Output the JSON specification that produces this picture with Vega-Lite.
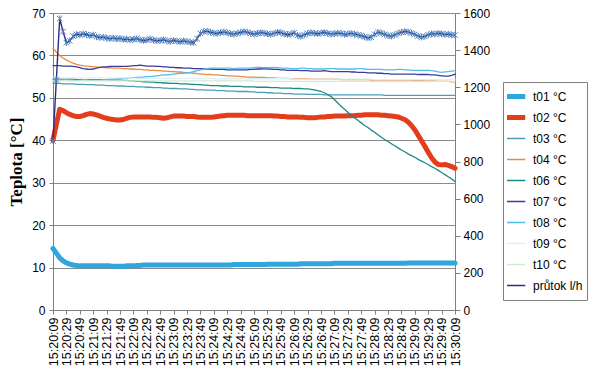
{
"$schema": "https://vega.github.io/schema/vega-lite/v6.json",
"width": 402, "height": 297,
"autosize": {"type": "none"},
"padding": {"left": 53, "top": 13, "right": 145, "bottom": 67},
"background": "white",
"config": {"view": {"stroke": null}, "font": "Liberation Sans"},
"data": {"values": [
{"t":"15:20:09","t01":14.5,"t02":40.0,"t03":53.4,"t04":61.7,"t06":54.4,"t07":57.6,"t08":54.2,"t09":54.8,"t10":54.0,"flow":910},
{"t":"15:20:14","t01":13.4,"t02":43.8,"t03":53.4,"t04":60.8,"t06":54.4,"t07":57.6,"t08":54.2,"t09":54.8,"t10":54.0,"flow":1240},
{"t":"15:20:19","t01":12.3,"t02":47.3,"t03":53.4,"t04":60.0,"t06":54.4,"t07":57.6,"t08":54.2,"t09":54.7,"t10":54.0,"flow":1570},
{"t":"15:20:24","t01":11.6,"t02":47.0,"t03":53.3,"t04":59.4,"t06":54.4,"t07":57.5,"t08":54.3,"t09":54.7,"t10":54.0,"flow":1500},
{"t":"15:20:29","t01":11.1,"t02":46.5,"t03":53.3,"t04":58.9,"t06":54.4,"t07":57.5,"t08":54.3,"t09":54.7,"t10":54.0,"flow":1440},
{"t":"15:20:34","t01":10.8,"t02":46.1,"t03":53.3,"t04":58.5,"t06":54.4,"t07":57.5,"t08":54.2,"t09":54.7,"t10":54.0,"flow":1450},
{"t":"15:20:39","t01":10.6,"t02":45.8,"t03":53.3,"t04":58.2,"t06":54.4,"t07":57.4,"t08":54.1,"t09":54.7,"t10":54.0,"flow":1475},
{"t":"15:20:44","t01":10.5,"t02":45.6,"t03":53.2,"t04":57.9,"t06":54.3,"t07":57.3,"t08":54.1,"t09":54.7,"t10":54.0,"flow":1485},
{"t":"15:20:49","t01":10.4,"t02":45.6,"t03":53.2,"t04":57.7,"t06":54.3,"t07":57.1,"t08":54.2,"t09":54.7,"t10":54.0,"flow":1482},
{"t":"15:20:54","t01":10.4,"t02":45.8,"t03":53.2,"t04":57.6,"t06":54.3,"t07":56.9,"t08":54.3,"t09":54.7,"t10":54.0,"flow":1488},
{"t":"15:20:59","t01":10.4,"t02":46.1,"t03":53.1,"t04":57.5,"t06":54.3,"t07":56.8,"t08":54.3,"t09":54.7,"t10":54.0,"flow":1484},
{"t":"15:21:04","t01":10.4,"t02":46.3,"t03":53.1,"t04":57.4,"t06":54.3,"t07":56.7,"t08":54.2,"t09":54.7,"t10":54.0,"flow":1478},
{"t":"15:21:09","t01":10.4,"t02":46.2,"t03":53.1,"t04":57.3,"t06":54.3,"t07":56.8,"t08":54.2,"t09":54.7,"t10":54.0,"flow":1482},
{"t":"15:21:14","t01":10.4,"t02":46.0,"t03":53.0,"t04":57.3,"t06":54.3,"t07":57.0,"t08":54.2,"t09":54.7,"t10":54.0,"flow":1472},
{"t":"15:21:19","t01":10.4,"t02":45.7,"t03":53.0,"t04":57.2,"t06":54.3,"t07":57.2,"t08":54.2,"t09":54.7,"t10":54.0,"flow":1468},
{"t":"15:21:24","t01":10.4,"t02":45.4,"t03":53.0,"t04":57.2,"t06":54.3,"t07":57.3,"t08":54.3,"t09":54.7,"t10":54.0,"flow":1470},
{"t":"15:21:29","t01":10.4,"t02":45.2,"t03":52.9,"t04":57.1,"t06":54.3,"t07":57.3,"t08":54.3,"t09":54.7,"t10":54.0,"flow":1465},
{"t":"15:21:34","t01":10.4,"t02":45.0,"t03":52.9,"t04":57.1,"t06":54.2,"t07":57.4,"t08":54.4,"t09":54.7,"t10":54.0,"flow":1462},
{"t":"15:21:39","t01":10.3,"t02":44.9,"t03":52.9,"t04":57.0,"t06":54.2,"t07":57.4,"t08":54.4,"t09":54.7,"t10":54.0,"flow":1466},
{"t":"15:21:44","t01":10.3,"t02":44.8,"t03":52.8,"t04":57.0,"t06":54.2,"t07":57.4,"t08":54.5,"t09":54.7,"t10":54.0,"flow":1460},
{"t":"15:21:49","t01":10.3,"t02":44.8,"t03":52.8,"t04":57.0,"t06":54.2,"t07":57.4,"t08":54.5,"t09":54.7,"t10":54.0,"flow":1463},
{"t":"15:21:54","t01":10.3,"t02":44.9,"t03":52.8,"t04":56.9,"t06":54.1,"t07":57.4,"t08":54.6,"t09":54.7,"t10":54.0,"flow":1458},
{"t":"15:21:59","t01":10.4,"t02":45.2,"t03":52.7,"t04":56.9,"t06":54.1,"t07":57.4,"t08":54.6,"t09":54.7,"t10":54.0,"flow":1460},
{"t":"15:22:04","t01":10.4,"t02":45.4,"t03":52.7,"t04":56.8,"t06":54.0,"t07":57.5,"t08":54.7,"t09":54.7,"t10":54.0,"flow":1455},
{"t":"15:22:09","t01":10.4,"t02":45.5,"t03":52.7,"t04":56.8,"t06":54.0,"t07":57.6,"t08":54.7,"t09":54.6,"t10":54.0,"flow":1458},
{"t":"15:22:14","t01":10.5,"t02":45.5,"t03":52.6,"t04":56.7,"t06":53.9,"t07":57.6,"t08":54.8,"t09":54.6,"t10":54.0,"flow":1462},
{"t":"15:22:19","t01":10.5,"t02":45.5,"t03":52.6,"t04":56.7,"t06":53.9,"t07":57.7,"t08":54.8,"t09":54.6,"t10":54.0,"flow":1456},
{"t":"15:22:24","t01":10.6,"t02":45.5,"t03":52.6,"t04":56.6,"t06":53.8,"t07":57.6,"t08":54.9,"t09":54.6,"t10":54.0,"flow":1452},
{"t":"15:22:29","t01":10.6,"t02":45.5,"t03":52.5,"t04":56.6,"t06":53.8,"t07":57.5,"t08":55.0,"t09":54.6,"t10":54.0,"flow":1455},
{"t":"15:22:34","t01":10.6,"t02":45.5,"t03":52.5,"t04":56.5,"t06":53.7,"t07":57.5,"t08":55.0,"t09":54.6,"t10":54.0,"flow":1460},
{"t":"15:22:39","t01":10.6,"t02":45.4,"t03":52.4,"t04":56.5,"t06":53.7,"t07":57.5,"t08":55.1,"t09":54.6,"t10":54.0,"flow":1454},
{"t":"15:22:44","t01":10.6,"t02":45.4,"t03":52.4,"t04":56.4,"t06":53.6,"t07":57.4,"t08":55.2,"t09":54.6,"t10":54.0,"flow":1450},
{"t":"15:22:49","t01":10.6,"t02":45.3,"t03":52.4,"t04":56.4,"t06":53.6,"t07":57.4,"t08":55.3,"t09":54.6,"t10":54.0,"flow":1452},
{"t":"15:22:54","t01":10.6,"t02":45.2,"t03":52.3,"t04":56.3,"t06":53.5,"t07":57.3,"t08":55.4,"t09":54.6,"t10":54.0,"flow":1456},
{"t":"15:22:59","t01":10.6,"t02":45.3,"t03":52.3,"t04":56.3,"t06":53.5,"t07":57.3,"t08":55.4,"t09":54.6,"t10":54.0,"flow":1450},
{"t":"15:23:04","t01":10.6,"t02":45.5,"t03":52.2,"t04":56.2,"t06":53.4,"t07":57.2,"t08":55.5,"t09":54.6,"t10":54.0,"flow":1447},
{"t":"15:23:09","t01":10.6,"t02":45.7,"t03":52.2,"t04":56.2,"t06":53.4,"t07":57.2,"t08":55.6,"t09":54.6,"t10":54.0,"flow":1452},
{"t":"15:23:14","t01":10.6,"t02":45.7,"t03":52.2,"t04":56.1,"t06":53.4,"t07":57.1,"t08":55.7,"t09":54.6,"t10":54.0,"flow":1448},
{"t":"15:23:19","t01":10.6,"t02":45.7,"t03":52.1,"t04":56.1,"t06":53.3,"t07":57.1,"t08":55.8,"t09":54.6,"t10":54.0,"flow":1445},
{"t":"15:23:24","t01":10.6,"t02":45.7,"t03":52.1,"t04":56.0,"t06":53.3,"t07":57.0,"t08":55.8,"t09":54.6,"t10":54.0,"flow":1450},
{"t":"15:23:29","t01":10.6,"t02":45.6,"t03":52.1,"t04":55.9,"t06":53.3,"t07":57.0,"t08":55.9,"t09":54.6,"t10":54.0,"flow":1446},
{"t":"15:23:34","t01":10.6,"t02":45.6,"t03":52.0,"t04":55.9,"t06":53.2,"t07":57.0,"t08":56.0,"t09":54.6,"t10":54.0,"flow":1443},
{"t":"15:23:39","t01":10.6,"t02":45.6,"t03":52.0,"t04":55.8,"t06":53.2,"t07":56.9,"t08":56.2,"t09":54.6,"t10":54.0,"flow":1440},
{"t":"15:23:44","t01":10.6,"t02":45.5,"t03":51.9,"t04":55.7,"t06":53.1,"t07":56.9,"t08":56.4,"t09":54.6,"t10":54.0,"flow":1462},
{"t":"15:23:49","t01":10.6,"t02":45.4,"t03":51.9,"t04":55.6,"t06":53.1,"t07":56.9,"t08":56.6,"t09":54.6,"t10":54.0,"flow":1490},
{"t":"15:23:54","t01":10.6,"t02":45.4,"t03":51.9,"t04":55.6,"t06":53.0,"t07":56.8,"t08":56.7,"t09":54.6,"t10":54.0,"flow":1500},
{"t":"15:23:59","t01":10.6,"t02":45.4,"t03":51.8,"t04":55.5,"t06":53.0,"t07":56.8,"t08":56.9,"t09":54.6,"t10":54.0,"flow":1502},
{"t":"15:24:04","t01":10.6,"t02":45.4,"t03":51.8,"t04":55.5,"t06":52.9,"t07":56.8,"t08":57.0,"t09":54.6,"t10":54.0,"flow":1496},
{"t":"15:24:09","t01":10.6,"t02":45.5,"t03":51.8,"t04":55.4,"t06":52.9,"t07":56.7,"t08":57.0,"t09":54.5,"t10":54.0,"flow":1492},
{"t":"15:24:14","t01":10.6,"t02":45.6,"t03":51.7,"t04":55.4,"t06":52.9,"t07":56.7,"t08":57.0,"t09":54.5,"t10":54.0,"flow":1490},
{"t":"15:24:19","t01":10.6,"t02":45.7,"t03":51.7,"t04":55.3,"t06":52.8,"t07":56.7,"t08":57.0,"t09":54.5,"t10":54.0,"flow":1495},
{"t":"15:24:24","t01":10.6,"t02":45.8,"t03":51.7,"t04":55.3,"t06":52.8,"t07":56.7,"t08":57.0,"t09":54.5,"t10":54.0,"flow":1498},
{"t":"15:24:29","t01":10.6,"t02":45.9,"t03":51.6,"t04":55.2,"t06":52.8,"t07":56.6,"t08":57.0,"t09":54.5,"t10":54.0,"flow":1494},
{"t":"15:24:34","t01":10.6,"t02":45.9,"t03":51.6,"t04":55.2,"t06":52.7,"t07":56.6,"t08":57.0,"t09":54.5,"t10":54.0,"flow":1488},
{"t":"15:24:39","t01":10.7,"t02":45.9,"t03":51.6,"t04":55.1,"t06":52.7,"t07":56.6,"t08":56.9,"t09":54.5,"t10":54.0,"flow":1486},
{"t":"15:24:44","t01":10.7,"t02":45.9,"t03":51.5,"t04":55.1,"t06":52.7,"t07":56.6,"t08":57.0,"t09":54.5,"t10":54.0,"flow":1490},
{"t":"15:24:49","t01":10.7,"t02":45.9,"t03":51.5,"t04":55.0,"t06":52.7,"t07":56.6,"t08":57.0,"t09":54.5,"t10":54.0,"flow":1495},
{"t":"15:24:54","t01":10.7,"t02":45.9,"t03":51.5,"t04":55.0,"t06":52.6,"t07":56.6,"t08":57.0,"t09":54.5,"t10":54.0,"flow":1500},
{"t":"15:24:59","t01":10.7,"t02":45.8,"t03":51.5,"t04":54.9,"t06":52.6,"t07":56.6,"t08":57.0,"t09":54.5,"t10":54.0,"flow":1496},
{"t":"15:25:04","t01":10.7,"t02":45.8,"t03":51.4,"t04":54.9,"t06":52.6,"t07":56.7,"t08":57.0,"t09":54.5,"t10":54.0,"flow":1490},
{"t":"15:25:09","t01":10.7,"t02":45.8,"t03":51.4,"t04":54.9,"t06":52.6,"t07":56.7,"t08":57.1,"t09":54.5,"t10":53.9,"flow":1486},
{"t":"15:25:14","t01":10.7,"t02":45.8,"t03":51.3,"t04":54.8,"t06":52.5,"t07":56.8,"t08":57.2,"t09":54.5,"t10":53.9,"flow":1490},
{"t":"15:25:19","t01":10.7,"t02":45.8,"t03":51.3,"t04":54.8,"t06":52.5,"t07":56.8,"t08":57.2,"t09":54.5,"t10":53.9,"flow":1494},
{"t":"15:25:24","t01":10.7,"t02":45.8,"t03":51.3,"t04":54.8,"t06":52.5,"t07":56.9,"t08":57.1,"t09":54.5,"t10":53.9,"flow":1492},
{"t":"15:25:29","t01":10.8,"t02":45.8,"t03":51.2,"t04":54.7,"t06":52.5,"t07":56.8,"t08":57.1,"t09":54.5,"t10":53.9,"flow":1488},
{"t":"15:25:34","t01":10.8,"t02":45.8,"t03":51.2,"t04":54.7,"t06":52.4,"t07":56.8,"t08":57.1,"t09":54.5,"t10":53.9,"flow":1485},
{"t":"15:25:39","t01":10.8,"t02":45.7,"t03":51.1,"t04":54.7,"t06":52.4,"t07":56.7,"t08":57.2,"t09":54.5,"t10":53.9,"flow":1490},
{"t":"15:25:44","t01":10.8,"t02":45.7,"t03":51.1,"t04":54.6,"t06":52.4,"t07":56.7,"t08":57.1,"t09":54.5,"t10":53.9,"flow":1496},
{"t":"15:25:49","t01":10.8,"t02":45.6,"t03":51.1,"t04":54.6,"t06":52.3,"t07":56.6,"t08":57.0,"t09":54.5,"t10":53.9,"flow":1494},
{"t":"15:25:54","t01":10.8,"t02":45.6,"t03":51.0,"t04":54.6,"t06":52.3,"t07":56.6,"t08":57.0,"t09":54.5,"t10":53.9,"flow":1488},
{"t":"15:25:59","t01":10.8,"t02":45.5,"t03":51.0,"t04":54.6,"t06":52.3,"t07":56.5,"t08":57.0,"t09":54.5,"t10":53.9,"flow":1484},
{"t":"15:26:04","t01":10.8,"t02":45.5,"t03":51.0,"t04":54.5,"t06":52.3,"t07":56.5,"t08":56.9,"t09":54.5,"t10":53.9,"flow":1487},
{"t":"15:26:09","t01":10.8,"t02":45.5,"t03":50.9,"t04":54.5,"t06":52.2,"t07":56.5,"t08":56.9,"t09":54.4,"t10":53.9,"flow":1493},
{"t":"15:26:14","t01":10.8,"t02":45.5,"t03":50.9,"t04":54.5,"t06":52.2,"t07":56.5,"t08":56.9,"t09":54.4,"t10":53.9,"flow":1480},
{"t":"15:26:19","t01":10.9,"t02":45.4,"t03":50.9,"t04":54.5,"t06":52.2,"t07":56.4,"t08":57.0,"t09":54.4,"t10":53.9,"flow":1474},
{"t":"15:26:24","t01":10.9,"t02":45.4,"t03":50.9,"t04":54.5,"t06":52.1,"t07":56.4,"t08":57.0,"t09":54.4,"t10":53.9,"flow":1482},
{"t":"15:26:29","t01":10.9,"t02":45.3,"t03":50.8,"t04":54.5,"t06":52.1,"t07":56.4,"t08":56.9,"t09":54.4,"t10":53.9,"flow":1490},
{"t":"15:26:34","t01":10.9,"t02":45.3,"t03":50.8,"t04":54.4,"t06":52.0,"t07":56.3,"t08":56.9,"t09":54.4,"t10":53.9,"flow":1494},
{"t":"15:26:39","t01":10.9,"t02":45.3,"t03":50.8,"t04":54.4,"t06":51.9,"t07":56.3,"t08":56.8,"t09":54.4,"t10":53.9,"flow":1491},
{"t":"15:26:44","t01":10.9,"t02":45.4,"t03":50.8,"t04":54.4,"t06":51.7,"t07":56.3,"t08":56.8,"t09":54.4,"t10":53.9,"flow":1488},
{"t":"15:26:49","t01":10.9,"t02":45.5,"t03":50.8,"t04":54.4,"t06":51.5,"t07":56.3,"t08":56.8,"t09":54.4,"t10":53.9,"flow":1492},
{"t":"15:26:54","t01":10.9,"t02":45.5,"t03":50.7,"t04":54.4,"t06":51.2,"t07":56.4,"t08":56.8,"t09":54.4,"t10":53.9,"flow":1495},
{"t":"15:26:59","t01":10.9,"t02":45.6,"t03":50.7,"t04":54.4,"t06":50.8,"t07":56.3,"t08":56.9,"t09":54.4,"t10":53.9,"flow":1490},
{"t":"15:27:04","t01":10.9,"t02":45.6,"t03":50.7,"t04":54.4,"t06":50.3,"t07":56.2,"t08":56.9,"t09":54.4,"t10":53.9,"flow":1486},
{"t":"15:27:09","t01":11.0,"t02":45.7,"t03":50.7,"t04":54.4,"t06":49.6,"t07":56.2,"t08":56.9,"t09":54.4,"t10":53.9,"flow":1488},
{"t":"15:27:14","t01":11.0,"t02":45.7,"t03":50.7,"t04":54.4,"t06":48.8,"t07":56.2,"t08":56.8,"t09":54.4,"t10":53.9,"flow":1492},
{"t":"15:27:19","t01":11.0,"t02":45.7,"t03":50.7,"t04":54.3,"t06":48.0,"t07":56.2,"t08":56.8,"t09":54.4,"t10":53.9,"flow":1490},
{"t":"15:27:24","t01":11.0,"t02":45.7,"t03":50.7,"t04":54.3,"t06":47.3,"t07":56.2,"t08":56.8,"t09":54.4,"t10":53.9,"flow":1485},
{"t":"15:27:29","t01":11.0,"t02":45.8,"t03":50.7,"t04":54.3,"t06":46.6,"t07":56.2,"t08":56.8,"t09":54.4,"t10":53.9,"flow":1487},
{"t":"15:27:34","t01":11.0,"t02":45.8,"t03":50.7,"t04":54.3,"t06":45.9,"t07":56.1,"t08":56.8,"t09":54.4,"t10":53.9,"flow":1490},
{"t":"15:27:39","t01":11.0,"t02":45.8,"t03":50.7,"t04":54.3,"t06":45.3,"t07":56.1,"t08":56.8,"t09":54.4,"t10":53.9,"flow":1486},
{"t":"15:27:44","t01":11.0,"t02":45.9,"t03":50.7,"t04":54.3,"t06":44.7,"t07":56.0,"t08":56.9,"t09":54.4,"t10":53.9,"flow":1482},
{"t":"15:27:49","t01":11.0,"t02":45.9,"t03":50.7,"t04":54.3,"t06":44.1,"t07":56.0,"t08":56.9,"t09":54.4,"t10":53.9,"flow":1478},
{"t":"15:27:54","t01":11.0,"t02":46.0,"t03":50.7,"t04":54.3,"t06":43.5,"t07":56.0,"t08":56.8,"t09":54.4,"t10":53.9,"flow":1472},
{"t":"15:27:59","t01":11.0,"t02":46.0,"t03":50.7,"t04":54.3,"t06":43.0,"t07":55.9,"t08":56.7,"t09":54.4,"t10":53.9,"flow":1466},
{"t":"15:28:04","t01":11.0,"t02":46.0,"t03":50.7,"t04":54.2,"t06":42.4,"t07":55.9,"t08":56.7,"t09":54.4,"t10":53.9,"flow":1470},
{"t":"15:28:09","t01":11.0,"t02":46.0,"t03":50.7,"t04":54.2,"t06":41.9,"t07":55.9,"t08":56.7,"t09":54.3,"t10":53.9,"flow":1485},
{"t":"15:28:14","t01":11.0,"t02":46.0,"t03":50.7,"t04":54.2,"t06":41.3,"t07":55.8,"t08":56.7,"t09":54.3,"t10":53.9,"flow":1496},
{"t":"15:28:19","t01":11.0,"t02":45.9,"t03":50.7,"t04":54.2,"t06":40.7,"t07":55.8,"t08":56.7,"t09":54.3,"t10":53.9,"flow":1492},
{"t":"15:28:24","t01":11.0,"t02":45.9,"t03":50.6,"t04":54.2,"t06":40.2,"t07":55.7,"t08":56.6,"t09":54.3,"t10":53.9,"flow":1485},
{"t":"15:28:29","t01":11.0,"t02":45.8,"t03":50.6,"t04":54.2,"t06":39.7,"t07":55.7,"t08":56.6,"t09":54.3,"t10":53.9,"flow":1478},
{"t":"15:28:34","t01":11.0,"t02":45.7,"t03":50.6,"t04":54.2,"t06":39.2,"t07":55.6,"t08":56.6,"t09":54.3,"t10":53.9,"flow":1475},
{"t":"15:28:39","t01":11.0,"t02":45.6,"t03":50.6,"t04":54.2,"t06":38.7,"t07":55.6,"t08":56.6,"t09":54.3,"t10":53.9,"flow":1482},
{"t":"15:28:44","t01":11.0,"t02":45.5,"t03":50.6,"t04":54.2,"t06":38.2,"t07":55.6,"t08":56.7,"t09":54.3,"t10":53.9,"flow":1490},
{"t":"15:28:49","t01":11.0,"t02":45.2,"t03":50.6,"t04":54.2,"t06":37.7,"t07":55.6,"t08":56.7,"t09":54.3,"t10":53.9,"flow":1496},
{"t":"15:28:54","t01":11.0,"t02":44.9,"t03":50.6,"t04":54.2,"t06":37.3,"t07":55.6,"t08":56.6,"t09":54.3,"t10":53.9,"flow":1500},
{"t":"15:28:59","t01":11.1,"t02":44.3,"t03":50.6,"t04":54.2,"t06":36.8,"t07":55.6,"t08":56.6,"t09":54.3,"t10":53.9,"flow":1498},
{"t":"15:29:04","t01":11.1,"t02":43.5,"t03":50.6,"t04":54.2,"t06":36.4,"t07":55.6,"t08":56.5,"t09":54.3,"t10":53.9,"flow":1492},
{"t":"15:29:09","t01":11.1,"t02":42.5,"t03":50.6,"t04":54.1,"t06":36.0,"t07":55.6,"t08":56.5,"t09":54.3,"t10":53.9,"flow":1485},
{"t":"15:29:14","t01":11.1,"t02":41.2,"t03":50.6,"t04":54.1,"t06":35.5,"t07":55.5,"t08":56.5,"t09":54.3,"t10":53.9,"flow":1476},
{"t":"15:29:19","t01":11.1,"t02":39.9,"t03":50.6,"t04":54.1,"t06":35.1,"t07":55.5,"t08":56.5,"t09":54.3,"t10":53.9,"flow":1470},
{"t":"15:29:24","t01":11.1,"t02":38.6,"t03":50.6,"t04":54.0,"t06":34.7,"t07":55.5,"t08":56.5,"t09":54.3,"t10":53.9,"flow":1474},
{"t":"15:29:29","t01":11.1,"t02":37.2,"t03":50.6,"t04":54.0,"t06":34.3,"t07":55.5,"t08":56.5,"t09":54.3,"t10":53.9,"flow":1482},
{"t":"15:29:34","t01":11.1,"t02":35.9,"t03":50.6,"t04":54.0,"t06":33.8,"t07":55.4,"t08":56.4,"t09":54.3,"t10":53.9,"flow":1488},
{"t":"15:29:39","t01":11.1,"t02":34.9,"t03":50.6,"t04":54.0,"t06":33.4,"t07":55.4,"t08":56.3,"t09":54.3,"t10":53.9,"flow":1486},
{"t":"15:29:44","t01":11.1,"t02":34.3,"t03":50.6,"t04":53.9,"t06":32.9,"t07":55.3,"t08":56.1,"t09":54.3,"t10":53.9,"flow":1490},
{"t":"15:29:49","t01":11.1,"t02":34.2,"t03":50.6,"t04":53.9,"t06":32.4,"t07":55.2,"t08":56.0,"t09":54.3,"t10":53.9,"flow":1488},
{"t":"15:29:54","t01":11.1,"t02":34.3,"t03":50.6,"t04":53.9,"t06":31.9,"t07":55.1,"t08":56.1,"t09":54.3,"t10":53.9,"flow":1484},
{"t":"15:29:59","t01":11.1,"t02":34.1,"t03":50.6,"t04":53.9,"t06":31.4,"t07":55.1,"t08":56.2,"t09":54.3,"t10":53.9,"flow":1486},
{"t":"15:30:04","t01":11.1,"t02":33.8,"t03":50.6,"t04":53.8,"t06":30.9,"t07":55.3,"t08":56.3,"t09":54.3,"t10":53.9,"flow":1482},
{"t":"15:30:09","t01":11.1,"t02":33.4,"t03":50.6,"t04":53.8,"t06":30.3,"t07":55.6,"t08":56.4,"t09":54.3,"t10":53.9,"flow":1481}
]},
"transform": [{"fold": ["t01","t02","t03","t04","t06","t07","t08","t09","t10","flow"], "as": ["series","value"]}],
"encoding": {
  "x": {"field": "t", "type": "ordinal", "scale": {"type": "point", "padding": 0},
    "axis": {"title": null, "labelAngle": -90, "labelFontSize": 12.5, "labelColor": "black", "labelPadding": 3,
      "domainColor": "#808080", "tickColor": "#808080", "tickSize": 4,
      "values": ["15:20:09","15:20:29","15:20:49","15:21:09","15:21:29","15:21:49","15:22:09","15:22:29","15:22:49","15:23:09","15:23:29","15:23:49","15:24:09","15:24:29","15:24:49","15:25:09","15:25:29","15:25:49","15:26:09","15:26:29","15:26:49","15:27:09","15:27:29","15:27:49","15:28:09","15:28:29","15:28:49","15:29:09","15:29:29","15:29:49","15:30:09"]}}
},
"layer": [
  {
    "transform": [{"filter": "datum.series != 'flow'"}],
    "mark": {"type": "line", "strokeJoin": "round", "strokeCap": "round"},
    "encoding": {
      "y": {"field": "value", "type": "quantitative", "scale": {"domain": [0, 70], "nice": false},
        "axis": {"title": "Teplota [°C]", "titleFont": "Liberation Serif", "titleFontSize": 17, "titleFontWeight": "bold", "titleColor": "black", "titlePadding": 6,
          "values": [0,10,20,30,40,50,60,70], "labelFontSize": 12, "labelColor": "black", "labelPadding": 4,
          "grid": true, "gridColor": "#8c8c8c", "gridWidth": 1, "domainColor": "#808080", "tickColor": "#808080", "tickSize": 4}},
      "color": {"field": "series", "type": "nominal",
        "scale": {"domain": ["t01","t02","t03","t04","t06","t07","t08","t09","t10","flow"],
                  "range": ["#2FA6DE","#E43D1B","#4D9DB6","#EE8A3C","#1A8A88","#3B3B98","#52BDEA","#DDF1F3","#D5EAD2","#2C2C86"]},
        "legend": {"title": null, "orient": "none", "legendX": 450, "legendY": 69,
          "symbolType": "stroke", "symbolSize": 600, "symbolStrokeWidth": 1.5, "clipHeight": 21, "rowPadding": 0,
          "labelFont": "Liberation Sans", "labelFontSize": 12, "labelColor": "black", "labelOffset": 14,
          "strokeColor": "#808080", "padding": 4,
          "labelExpr": "datum.label == 'flow' ? 'průtok l/h' : datum.label + ' °C'",
          "encode": {"symbols": {"update": {"strokeWidth": {"signal": "datum.value == 't01' || datum.value == 't02' ? 5 : 1.5"}}}}}},
      "strokeWidth": {"condition": {"test": "datum.series == 't01' || datum.series == 't02'", "value": 5}, "value": 1.3}
    }
  },
  {
    "transform": [{"filter": "datum.series == 'flow'"}],
    "encoding": {
      "y": {"field": "value", "type": "quantitative", "scale": {"domain": [0, 1600], "nice": false},
        "axis": {"title": null, "orient": "right", "values": [0,200,400,600,800,1000,1200,1400,1600], "format": "d",
          "labelFontSize": 12, "labelColor": "black", "labelPadding": 3, "grid": false,
          "domainColor": "#808080", "tickColor": "#808080", "tickSize": 5}}
    },
    "layer": [
      {"mark": {"type": "line", "strokeWidth": 1.4}, "encoding": {"color": {"field": "series", "type": "nominal"}}},
      {"mark": {"type": "point", "shape": "M-1,-1L1,1M-1,1L1,-1M0,-1.2L0,1.2", "size": 30, "filled": false, "stroke": "#4F81BD", "strokeWidth": 1, "opacity": 1}}
    ]
  }
],
"resolve": {"scale": {"y": "independent"}}
}
